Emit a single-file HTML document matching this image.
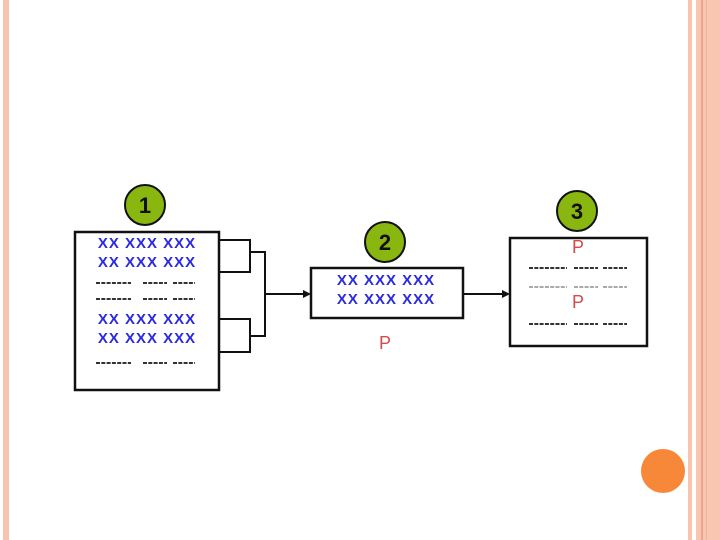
<!DOCTYPE html>
<html><head><style>body{margin:0;background:#fff}svg{display:block}</style></head><body>
<svg width="720" height="540" viewBox="0 0 720 540" xmlns="http://www.w3.org/2000/svg">
<rect width="720" height="540" fill="#fff"/>
<rect x="3" y="0" width="6" height="540" fill="#f8c4b0"/>
<rect x="688" y="0" width="4" height="540" fill="#f8c4b0"/>
<rect x="696" y="0" width="24" height="540" fill="#f9c6b2"/>
<rect x="701" y="0" width="2" height="540" fill="#e9a88e"/>
<rect x="706" y="0" width="1" height="540" fill="#f0b49c"/>
<circle cx="663" cy="471" r="22" fill="#f7883a"/>
<g stroke="#111" stroke-width="2.5" fill="#fff">
<rect x="75" y="232" width="144" height="158"/>
<rect x="311" y="268" width="152" height="50"/>
<rect x="510" y="238" width="137" height="108"/>
</g>
<g stroke="#111" stroke-width="2" fill="none">
<polyline points="219,240 250,240 250,272 219,272"/>
<polyline points="219,319 250,319 250,352 219,352"/>
<polyline points="250,252 265,252 265,336 250,336"/>
<line x1="265" y1="294" x2="305" y2="294"/>
<line x1="463" y1="294" x2="505" y2="294"/>
</g>
<polygon points="311,294 303,290 303,298" fill="#111"/>
<polygon points="510,294 502,290 502,298" fill="#111"/>
<g fill="#8ab70f" stroke="#111" stroke-width="2">
<circle cx="145" cy="205" r="20"/>
<circle cx="385" cy="242" r="20"/>
<circle cx="577" cy="211" r="20"/>
</g>
<g font-family="Liberation Sans, sans-serif" font-weight="bold" font-size="22" text-anchor="middle" fill="#111">
<text x="145" y="213">1</text><text x="385" y="250">2</text><text x="577" y="219">3</text>
</g>
<g font-family="Liberation Sans, sans-serif" font-weight="bold" font-size="15" text-anchor="middle" fill="#2a2ae0" letter-spacing="1">
<text x="147" y="248">XX XXX XXX</text>
<text x="147" y="267">XX XXX XXX</text>
<text x="147" y="324">XX XXX XXX</text>
<text x="147" y="343">XX XXX XXX</text>
<text x="386" y="285">XX XXX XXX</text>
<text x="386" y="304">XX XXX XXX</text>
</g>
<g stroke="#333" stroke-width="2" stroke-dasharray="4,1.3">
<path d="M96 283h35M143 283h24M173 283h22"/>
<path d="M96 299h35M143 299h24M173 299h22"/>
<path d="M96 363h35M143 363h24M173 363h22"/>
<path d="M529 268h38M574 268h24M603 268h24"/>
<path d="M529 324h38M574 324h24M603 324h24"/>
</g>
<g stroke="#555" stroke-width="1" stroke-dasharray="4,1.3">
<path d="M529 287h38M574 287h24M603 287h24"/>
</g>
<g font-family="Liberation Sans, sans-serif" font-size="18" text-anchor="middle" fill="#d64a4a">
<text x="385" y="349">P</text>
<text x="578" y="253">P</text>
<text x="578" y="308">P</text>
</g>
</svg>
</body></html>
